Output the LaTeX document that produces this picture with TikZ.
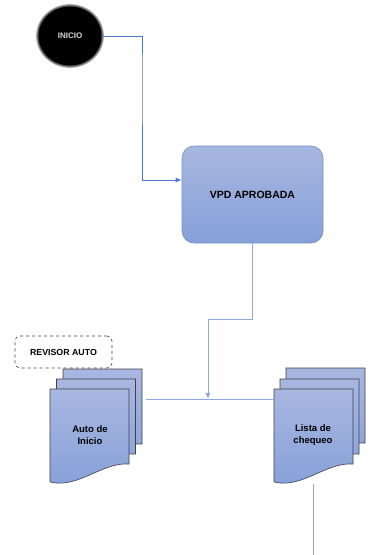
\documentclass[tikz,border=0pt]{standalone}
\usepackage{fontspec}
\setmainfont{Liberation Sans}
\usetikzlibrary{arrows.meta,shapes.geometric}
\definecolor{connA}{RGB}{78,118,208}
\definecolor{connB}{RGB}{142,168,224}
\definecolor{boxtop}{RGB}{168,183,224}
\definecolor{boxbot}{RGB}{134,160,216}
\definecolor{boxline}{RGB}{118,143,204}
\definecolor{pageline}{RGB}{64,64,72}
\tikzset{
  conn1/.style={draw=connA, line width=1pt},
  conn2/.style={draw=connB, line width=1pt},
  tipA/.style={-{Latex[length=6pt,width=5pt]}},
  pagestyle/.style={top color=boxtop, bottom color=boxbot, draw=pageline, line width=0.6pt},
  lbl/.style={font=\bfseries\fontsize{9.5}{12}\selectfont, align=center, text=black},
}
\newcommand{\docpage}[2]{% x, y top
  \path[pagestyle] (#1,#2) -- (#1+79,#2) -- (#1+79,#2+75)
     .. controls (#1+52,#2+73) and (#1+28,#2+100) .. (#1,#2+93) -- cycle;
}
\begin{document}
\begin{tikzpicture}[x=1pt,y=-1pt]
\useasboundingbox (0,0) rectangle (385,555);
% INICIO circle with soft edge
\foreach \r in {2.4,1.6,0.8}{
  \fill[black, opacity=0.3] (70,36) ellipse ({31.5+\r} and {29.5+\r});
}
\node[ellipse, fill=black, minimum width=63pt, minimum height=59pt, inner sep=0pt,
  font=\bfseries\fontsize{8}{10}\selectfont, text=white!85!black] (inicio) at (70,36) {INICIO};
% VPD box
\node[draw=boxline, line width=0.6pt, top color=boxtop, bottom color=boxbot, rounded corners=12pt,
  minimum width=141pt, minimum height=97pt, inner sep=0pt,
  font=\bfseries\fontsize{10.5}{12}\selectfont] (vpd) at (252.5,194.5) {VPD APROBADA};
% REVISOR AUTO
\node[draw=pageline, dashed, rounded corners=5pt, fill=white, line width=0.6pt,
  minimum width=97pt, minimum height=32pt, inner sep=0pt,
  font=\bfseries\fontsize{8.8}{10}\selectfont] (revisor) at (63.5,352) {REVISOR AUTO};
% Documents
\docpage{63}{369}
\docpage{56.5}{379}
\docpage{50}{389}
\docpage{286}{368}
\docpage{280}{379}
\docpage{274}{389}
\node[lbl] (auto) at (90,435) {Auto de\\Inicio};
\node[lbl] (lista) at (313,435) {Lista de\\chequeo};
\coordinate (autoR) at (146,399);
\coordinate (listaL) at (274,399);
\coordinate (listaB) at (313,484);
\coordinate (bend) at (208,319);
\coordinate (drop) at (208,399);
\coordinate (endB) at (313,555);
% connectors
\draw[conn1, tipA] (inicio.east) -| (142,70) |- (vpd.west |- 0,180);
\draw[conn2] (autoR) -- (listaL);
\draw[conn2, tipA] (vpd.south) |- (bend) -- (drop);
\draw[conn2] (listaB) -- (endB);
\end{tikzpicture}
\end{document}
